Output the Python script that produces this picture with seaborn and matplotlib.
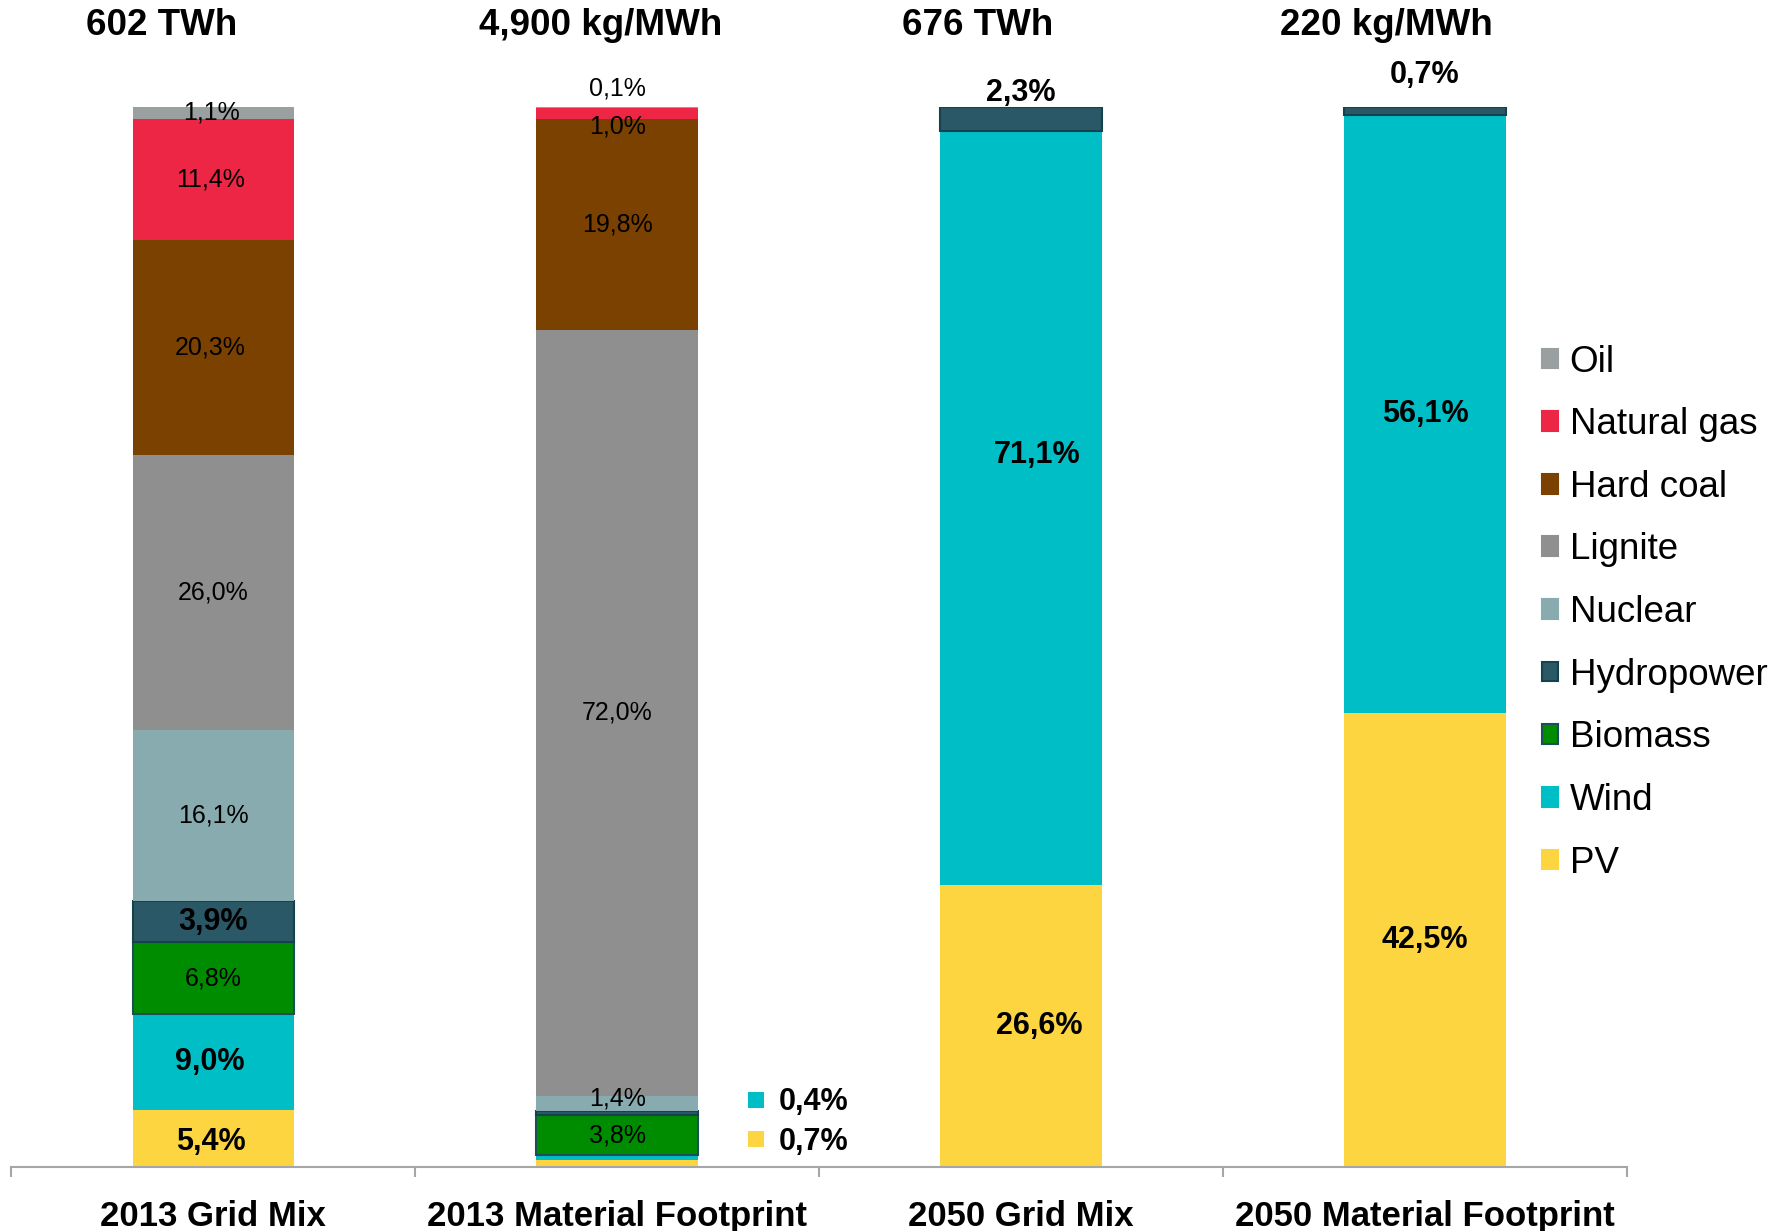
import numpy as np
import pandas as pd
import matplotlib
matplotlib.use('Agg')
import matplotlib.pyplot as plt
from matplotlib.patches import Patch
import seaborn as sns

# categories and headline totals
categories = ['2013 Grid Mix', '2013 Material Footprint', '2050 Grid Mix', '2050 Material Footprint']
totals = ['602 TWh', '4,900 kg/MWh', '676 TWh', '220 kg/MWh']

# stacking order, bottom to top
sources = ['PV', 'Wind', 'Biomass', 'Hydropower', 'Nuclear', 'Lignite', 'Hard coal', 'Natural gas', 'Oil']

# shares in % per bar
pv = [5.4, 0.7, 26.6, 42.5]
wind = [9.0, 0.4, 71.1, 56.1]
biomass = [6.8, 3.8, 0.0, 0.0]
hydropower = [3.9, 0.4, 2.3, 0.7]
nuclear = [16.1, 1.4, 0.0, 0.0]
lignite = [26.0, 72.0, 0.0, 0.0]
hard_coal = [20.3, 19.8, 0.0, 0.0]
natural_gas = [11.4, 1.0, 0.0, 0.0]
oil = [1.1, 0.1, 0.0, 0.0]

colors = {
    'PV': '#fdd540',
    'Wind': '#00bec6',
    'Biomass': '#008c00',
    'Hydropower': '#2a5866',
    'Nuclear': '#88abb0',
    'Lignite': '#8f8f8f',
    'Hard coal': '#7a4100',
    'Natural gas': '#ed2645',
    'Oil': '#9a9f9f',
}
edges = {'Biomass': '#1d4f5a', 'Hydropower': '#16424c'}

shares = pd.DataFrame({
    'PV': pv, 'Wind': wind, 'Biomass': biomass, 'Hydropower': hydropower,
    'Nuclear': nuclear, 'Lignite': lignite, 'Hard coal': hard_coal,
    'Natural gas': natural_gas, 'Oil': oil,
}, index=categories)

# 100% stacked columns
norm = shares.div(shares.sum(axis=1), axis=0) * 100
tops = norm.cumsum(axis=1)
bottoms = tops - norm
centers = tops - norm / 2

sns.set_theme(style='white', rc={'text.color': 'black', 'xtick.labelcolor': 'black'})
plt.rcParams['font.family'] = ['Liberation Sans', 'DejaVu Sans']

fig = plt.figure(figsize=(17.84, 12.31), dpi=100)
ax = fig.add_axes([0.0064, 0.052, 0.9056, 0.861])

# one seaborn layer per source, stacked with bottom=
for src in sources:
    mask = shares[src] > 0
    sns.barplot(x=list(shares.index[mask]), y=norm.loc[mask, src].values, order=categories,
                bottom=bottoms.loc[mask, src].values,
                color=colors[src], saturation=1, width=0.4, errorbar=None,
                edgecolor=edges.get(src, colors[src]), linewidth=1.5 if src in edges else 0,
                ax=ax)

ax.set_xlim(-0.5, 3.5)
ax.set_ylim(0, 100)
ax.set_yticks([])
ax.set_xlabel('')
ax.set_ylabel('')
for side in ['left', 'right', 'top']:
    ax.spines[side].set_visible(False)
ax.spines['bottom'].set_color('#a6a6a6')
ax.spines['bottom'].set_linewidth(1.5)
ax.set_xticks(range(4))
ax.set_xticklabels(categories, fontsize=25, fontweight='bold', color='black')
ax.set_xticks(np.arange(-0.5, 4, 1), minor=True)
ax.tick_params(axis='x', which='major', bottom=False, length=0, pad=24)
ax.tick_params(axis='x', which='minor', bottom=True, length=7.5, width=1.5,
               color='#a6a6a6', direction='out')


def fmt(v):
    return f'{v:.1f}'.replace('.', ',') + '%'


# segment labels
bold = {0: ['Hydropower', 'Wind', 'PV'], 1: [], 2: sources, 3: sources}
offsets = {(1, 'Oil'): 1.8, (1, 'Natural gas'): -1.2, (1, 'Nuclear'): 0.4,
           (2, 'Hydropower'): 2.5, (2, 'Wind'): 5.0, (3, 'Hydropower'): 3.4,
           (0, 'PV'): -0.3}
x_offsets = {(2, 'Wind'): 0.04, (2, 'PV'): 0.045, (0, 'PV'): -0.005, (0, 'Wind'): -0.01,
             (0, 'Oil'): -0.005, (0, 'Natural gas'): -0.008, (0, 'Hard coal'): -0.008}
skip = {(1, 'Wind'), (1, 'PV'), (1, 'Hydropower')}
for i, cat in enumerate(categories):
    for src in sources:
        v = shares.loc[cat, src]
        if v <= 0 or (i, src) in skip:
            continue
        y = centers.loc[cat, src] + offsets.get((i, src), 0)
        is_bold = src in bold[i]
        ax.text(i + x_offsets.get((i, src), 0), y, fmt(v), ha='center', va='center',
                fontsize=22 if is_bold else 18,
                fontweight='bold' if is_bold else 'normal', color='black', clip_on=False)

# side notes for the tiny wind / PV shares of the 2013 footprint
for src, y in [('Wind', 6.1), ('PV', 2.4)]:
    ax.scatter([1.343], [y + 0.2], marker='s', s=120, color=colors[src], linewidths=0, clip_on=False)
    ax.text(1.40, y, fmt(shares.loc[categories[1], src]), ha='left', va='center',
            fontsize=22, fontweight='bold', color='black')

# headline totals above the bars
title_dx = [-0.128, -0.041, -0.108, -0.097]
for i, t in enumerate(totals):
    ax.text(i + title_dx[i], 107.7, t, ha='center', va='center', fontsize=26.5,
            fontweight='bold', color='black', clip_on=False)

handles = [Patch(facecolor=colors[s], edgecolor=edges.get(s, colors[s]), linewidth=1.5, label=s)
           for s in reversed(sources)]
leg = fig.legend(handles=handles, loc='upper left', bbox_to_anchor=(0.8643, 0.7200),
                 frameon=False, fontsize=26.5, labelspacing=0.75, handlelength=0.45,
                 handleheight=0.45, handletextpad=0.3, borderpad=0, borderaxespad=0)
for txt in leg.get_texts():
    txt.set_color('black')

fig.savefig('out.png', dpi=100)
